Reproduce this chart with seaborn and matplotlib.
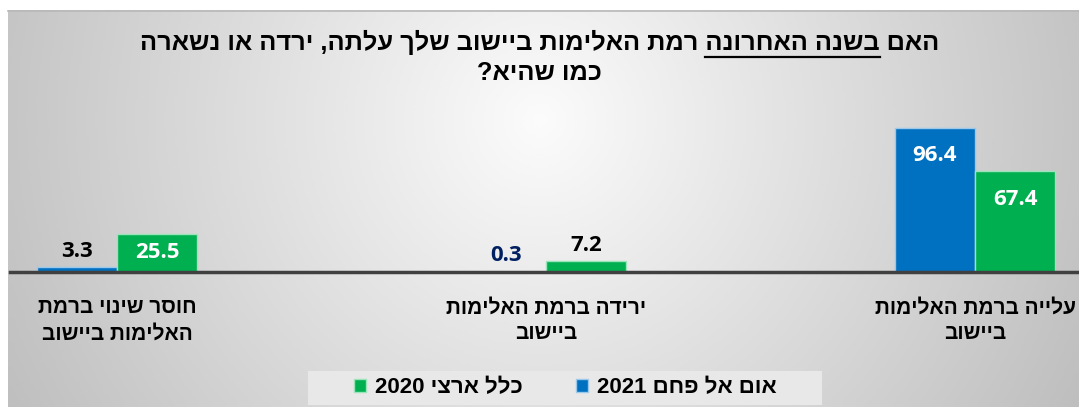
import matplotlib
matplotlib.use("Agg")
import matplotlib.pyplot as plt
from matplotlib.patches import Patch, Rectangle
import numpy as np
import pandas as pd
import seaborn as sns

# data (logical Hebrew order, first category is drawn on the right)
categories = ["עלייה ברמת האלימות\nביישוב",
              "ירידה ברמת האלימות\nביישוב",
              "חוסר שינוי ברמת\nהאלימות ביישוב"]
series = ["אום אל פחם 2021", "כלל ארצי 2020"]
umm_al_fahm_2021 = [96.4, 0.3, 3.3]
national_2020 = [67.4, 7.2, 25.5]

title_line1 = "האם בשנה האחרונה רמת האלימות ביישוב שלך עלתה, ירדה או נשארה"
title_line2 = "כמו שהיא?"
title_underlined = "בשנה האחרונה"

BLUE = "#0070C0"
GREEN = "#00B050"
HEB = "Liberation Sans"
TITLE_SIZE = 18.3


def rtl(s):
    # matplotlib has no bidi support: lay Hebrew out in visual order
    lines = []
    for line in s.split("\n"):
        words = []
        for w in reversed(line.split(" ")):
            if any("\u0590" <= c <= "\u05ff" for c in w):
                words.append(w[::-1])
            else:
                words.append(w)
        lines.append(" ".join(words))
    return "\n".join(lines)


df = pd.DataFrame({
    "category": categories * 2,
    "series": [series[0]] * 3 + [series[1]] * 3,
    "value": umm_al_fahm_2021 + national_2020,
})

W, H = 1079, 407
fig = plt.figure(figsize=(W / 100, H / 100), dpi=100)
fig.patch.set_facecolor("white")

# background panel with radial gray gradient (pixel coordinates)
bg = fig.add_axes([0, 0, 1, 1], zorder=0)
bg.axis("off")
xx, yy = np.meshgrid(np.linspace(8, W, 400), np.linspace(10, H, 160))
r = np.sqrt(((xx - 540) / 560) ** 2 + ((yy - 120) / 560) ** 2)
shade = np.clip(0.985 - 0.22 * r, 0.74, 1)
bg.imshow(shade, cmap="gray", vmin=0, vmax=1, extent=(8, W, H, 10),
          aspect="auto", interpolation="bicubic")
bg.plot([8, W], [10.5, 10.5], color="#b8b8b8", lw=1.2)
bg.add_patch(Rectangle((308, 371), 514, 34, facecolor="#e8e8e8",
                       edgecolor="none"))
bg.set_xlim(0, W)
bg.set_ylim(H, 0)

# main axes: baseline at y=272px, group centres at 117/546/975px
base = (H - 272) / H
ax = fig.add_axes([10 / W, base, (W - 10) / W, 162 / H], zorder=1)
ax.patch.set_alpha(0)

order = categories[::-1]
sns.barplot(data=df, x="category", y="value", hue="series",
            order=order, hue_order=series, palette=[BLUE, GREEN],
            width=0.375, saturation=1, legend=False, ax=ax)

ax.set_xlim((10 - 117) / 429, 2 + (W - 975) / 429)
ax.set_ylim(0, 162 / 1.494)

edge = {0: "#9cc8ea", 1: "#9be3b9"}
outside_colors = {"0.3": "#002060"}
for i, cont in enumerate(ax.containers):
    for bar in cont:
        bar.set_edgecolor(edge[i])
        bar.set_linewidth(1)
        h = bar.get_height()
        xc = bar.get_x() + bar.get_width() / 2
        txt = f"{h:.1f}"
        if h > 20:
            px = min(28, h * 1.494 / 2)
            ax.annotate(txt, (xc, h), xytext=(0, -px * 0.72),
                        textcoords="offset points", ha="center", va="center",
                        color="white", fontsize=16, fontweight="bold",
                        family="Open Sans")
        else:
            ax.annotate(txt, (xc, h), xytext=(0, 4),
                        textcoords="offset points", ha="center", va="bottom",
                        color=outside_colors.get(txt, "black"), fontsize=16,
                        fontweight="bold", family="Open Sans")

sns.despine(ax=ax, left=True)
ax.spines["bottom"].set_color("#404040")
ax.spines["bottom"].set_linewidth(2.5)
ax.set_yticks([])
ax.set_xlabel("")
ax.set_ylabel("")
ax.set_xticks(range(3))
ax.set_xticklabels([rtl(c) for c in order], fontsize=15, fontweight="bold",
                   family=HEB, linespacing=1.47)
ax.tick_params(axis="x", length=0, pad=19)

# title, with the underlined phrase
t1 = fig.text(0.5, 1 - 42 / H, rtl(title_line1), ha="center", va="center",
              fontsize=TITLE_SIZE, fontweight="bold", family=HEB)
fig.text(0.5, 1 - 73 / H, rtl(title_line2), ha="center", va="center",
         fontsize=TITLE_SIZE, fontweight="bold", family=HEB)

fig.canvas.draw()
rend = fig.canvas.get_renderer()


def text_width(s):
    t = fig.text(0, 0, s, fontsize=TITLE_SIZE, fontweight="bold", family=HEB)
    w = t.get_window_extent(rend).width
    t.remove()
    return w


bb = t1.get_window_extent(rend)
first_word = rtl(title_line1.split(" ")[0])
head = text_width(first_word + " " + rtl(title_underlined))
tail = text_width(first_word)
space = text_width(first_word + " " + first_word) - 2 * tail
x_end = bb.x1 - tail - space
x_start = bb.x1 - head
yline = H - (bb.y0 - 2)
bg.plot([x_start, x_end], [yline, yline], color="black", lw=1.6)

# legend (green entry on the left, squares before the text)
handles = [Patch(facecolor=GREEN, edgecolor=edge[1]),
           Patch(facecolor=BLUE, edgecolor=edge[0])]
fig.legend(handles, [rtl(series[1]), rtl(series[0])], ncol=2, frameon=False,
           loc="center", bbox_to_anchor=(565 / W, 1 - 388 / H),
           handlelength=0.55, handleheight=0.55, handletextpad=0.4,
           columnspacing=2.4, prop={"family": HEB, "weight": "bold",
                                     "size": 16})

fig.savefig("out.png", dpi=100)
